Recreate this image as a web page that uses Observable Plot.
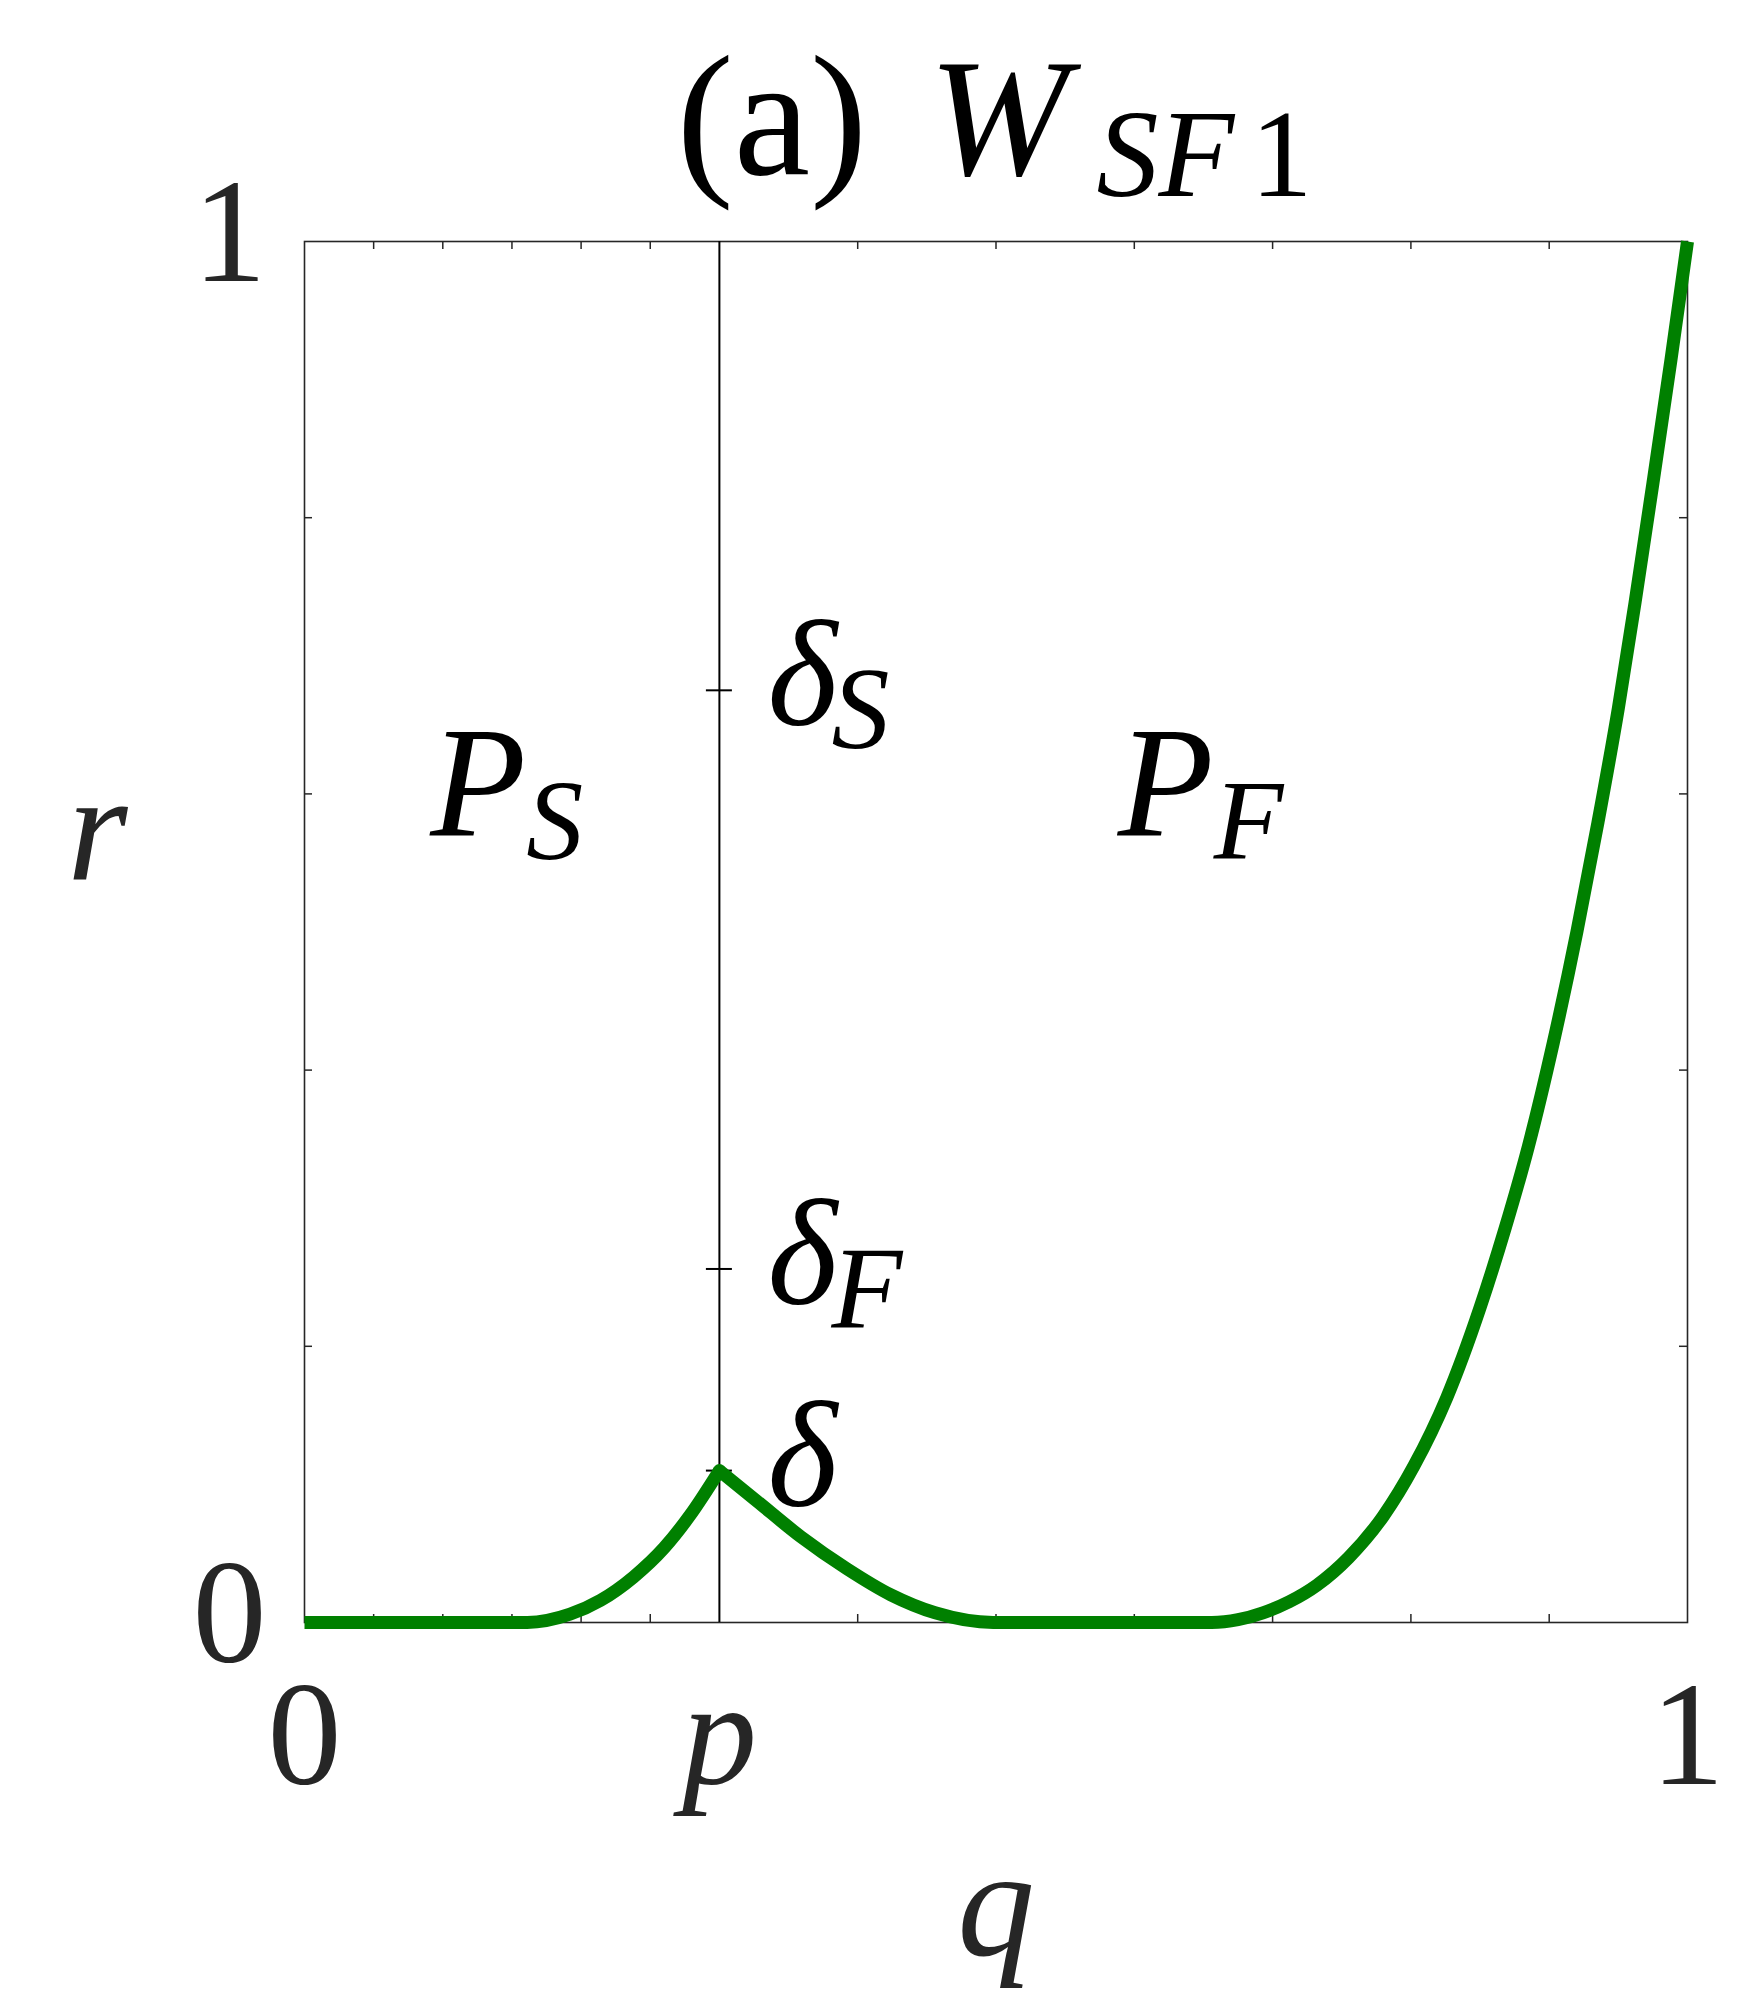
<!DOCTYPE html>
<html>
<head>
<meta charset="utf-8">
<script src="https://cdn.jsdelivr.net/npm/d3@7"></script>
<script src="https://cdn.jsdelivr.net/npm/@observablehq/plot@0.6"></script>
<style>
  html, body { margin: 0; padding: 0; background: #ffffff; }
</style>
</head>
<body>
<div id="chart"></div>
<script>
// ---- data ----
// segment 0: rise to the cusp at q = p; segment 1: fall, plateau, final rise
const qValues = [0, 0.161, 0.192, 0.214, 0.238, 0.260, 0.279, 0.300,
  0.300, 0.327, 0.359, 0.392, 0.424, 0.456, 0.498, 0.656,
  0.675, 0.693, 0.712, 0.732, 0.755, 0.780, 0.802, 0.826, 0.850,
  0.868, 0.885, 0.903, 0.920, 0.935, 0.950, 0.962, 0.975, 0.988, 1.0];
const rValues = [0, 0, 0.006, 0.016, 0.033, 0.054, 0.078, 0.110,
  0.110, 0.088, 0.062, 0.039, 0.020, 0.007, 0, 0,
  0.002, 0.007, 0.015, 0.027, 0.047, 0.077, 0.113, 0.163, 0.228,
  0.285, 0.345, 0.420, 0.500, 0.578, 0.662, 0.738, 0.825, 0.914, 1.0];
const segValues = [0, 0, 0, 0, 0, 0, 0, 0,
  1, 1, 1, 1, 1, 1, 1, 1,
  1, 1, 1, 1, 1, 1, 1, 1, 1,
  1, 1, 1, 1, 1, 1, 1, 1, 1, 1];

const pValue = 0.3;
const deltaPeak = 0.110;
const xMinorTicks = [0.05, 0.1, 0.15, 0.2, 0.25, 0.4, 0.5, 0.6, 0.7, 0.8, 0.9];
const yMinorTicks = [0.2, 0.4, 0.6, 0.8];
const xNumberTicks = [0, 1];
const xNumberLabels = ["0", "1"];
const xSymbolTicks = [0.3];
const xSymbolLabels = ["p"];
const yTickValues = [0, 1];
const yTickLabels = ["0", "1"];
const deltaValues = [0.675, 0.256, 0.110];
const deltaSubs = ["S", "F", ""];
const regionNames = ["P", "P"];
const regionSubs = ["S", "F"];
const regionQ = [0.091, 0.588];
const regionR = [0.570, 0.570];

const curve = qValues.map((q, i) => ({q, r: rValues[i], seg: segValues[i]}));
const xNum = xNumberTicks.map((v, i) => ({v, label: xNumberLabels[i]}));
const xSym = xSymbolTicks.map((v, i) => ({v, label: xSymbolLabels[i]}));
const yTicks = yTickValues.map((v, i) => ({v, label: yTickLabels[i]}));
const deltas = deltaValues.map((v, i) => ({v, sub: deltaSubs[i]}));
const regions = regionQ.map((q, i) => ({q, r: regionR[i], name: regionNames[i], sub: regionSubs[i]}));

const serif = "Liberation Serif";
const ink = "#262626";
const green = "#008000";
const lw = 13;

const chart = Plot.plot({
  width: 1750,
  height: 2013,
  marginLeft: 304,
  marginRight: 63,
  marginTop: 241,
  marginBottom: 391,
  style: {background: "#ffffff", overflow: "visible"},
  x: {domain: [0, 1], axis: null},
  y: {domain: [0, 1], axis: null},
  marks: [
    // minor ticks, inward, on all four sides
    Plot.ruleX(xMinorTicks, {x: d => d, stroke: ink, strokeWidth: 1.5, insetTop: 1373}),
    Plot.ruleX(xMinorTicks, {x: d => d, stroke: ink, strokeWidth: 1.5, insetBottom: 1373}),
    Plot.ruleY(yMinorTicks, {y: d => d, stroke: ink, strokeWidth: 1.5, insetLeft: 1375}),
    Plot.ruleY(yMinorTicks, {y: d => d, stroke: ink, strokeWidth: 1.5, insetRight: 1375}),
    Plot.frame({stroke: ink, strokeWidth: 1.6}),
    // vertical line at p
    Plot.ruleX([pValue], {x: d => d, stroke: "#000000", strokeWidth: 2}),
    // delta ticks crossing the p line
    Plot.ruleY(deltas, {y: "v", x1: () => pValue, x2: () => pValue, insetLeft: -13, insetRight: -13, stroke: "#000000", strokeWidth: 2}),
    // the curve
    Plot.line(curve, {x: "q", y: "r", z: "seg", stroke: green, strokeWidth: lw,
      strokeLinecap: "butt", strokeLinejoin: "round", curve: "monotone-x"}),
    Plot.dot([{q: pValue, r: deltaPeak}], {x: "q", y: "r", r: lw / 2, fill: green, stroke: null}),
    // delta labels
    Plot.text(deltas, {x: () => pValue, y: "v", text: () => "δ", textAnchor: "start", lineAnchor: "bottom",
      dx: 48, dy: 35, fontSize: 150, fontStyle: "italic", fontFamily: serif, fill: "#000000"}),
    Plot.text(deltas, {x: () => pValue, y: "v", text: "sub", textAnchor: "start", lineAnchor: "bottom",
      dx: 112, dy: 58, fontSize: 116, fontStyle: "italic", fontFamily: serif, fill: "#000000"}),
    // region labels
    Plot.text(regions, {x: "q", y: "r", text: "name", textAnchor: "start", lineAnchor: "bottom",
      fontSize: 157, fontStyle: "italic", fontFamily: serif, fill: "#000000"}),
    Plot.text(regions, {x: "q", y: "r", text: "sub", textAnchor: "start", lineAnchor: "bottom",
      dx: 96, dy: 24, fontSize: 114, fontStyle: "italic", fontFamily: serif, fill: "#000000"}),
    // x tick labels
    Plot.text(xNum, {x: "v", text: "label", frameAnchor: "bottom", lineAnchor: "bottom", dy: 161,
      fontSize: 148, fontFamily: serif, fill: ink}),
    Plot.text(xSym, {x: "v", text: "label", frameAnchor: "bottom", lineAnchor: "bottom", dy: 161,
      fontSize: 150, fontStyle: "italic", fontFamily: serif, fill: ink}),
    // y tick labels
    Plot.text(yTicks, {y: "v", text: "label", frameAnchor: "left", textAnchor: "end", lineAnchor: "middle",
      dx: -38, dy: -8, fontSize: 148, fontFamily: serif, fill: ink}),
    // axis labels
    Plot.text(["q"], {frameAnchor: "bottom", lineAnchor: "bottom", dy: 332, fontSize: 155, fontStyle: "italic", fontFamily: serif, fill: ink}),
    Plot.text(["r"], {frameAnchor: "left", textAnchor: "middle", lineAnchor: "bottom", dx: -207, dy: -53, fontSize: 155, fontStyle: "italic", fontFamily: serif, fill: ink}),
    // title
    Plot.text(["(a)"], {frameAnchor: "top-left", textAnchor: "start", lineAnchor: "bottom", dx: 372, dy: -68, fontSize: 172, fontFamily: serif, fill: "#000000"}),
    Plot.text(["W"], {frameAnchor: "top-left", textAnchor: "start", lineAnchor: "bottom", dx: 624, dy: -68, fontSize: 168, fontStyle: "italic", fontFamily: serif, fill: "#000000"}),
    Plot.text(["SF"], {frameAnchor: "top-left", textAnchor: "start", lineAnchor: "bottom", dx: 792, dy: -46, fontSize: 124, fontStyle: "italic", fontFamily: serif, fill: "#000000"}),
    Plot.text(["1"], {frameAnchor: "top-left", textAnchor: "start", lineAnchor: "bottom", dx: 946, dy: -46, fontSize: 124, fontFamily: serif, fill: "#000000"})
  ]
});

document.getElementById("chart").appendChild(chart);
</script>
</body>
</html>
